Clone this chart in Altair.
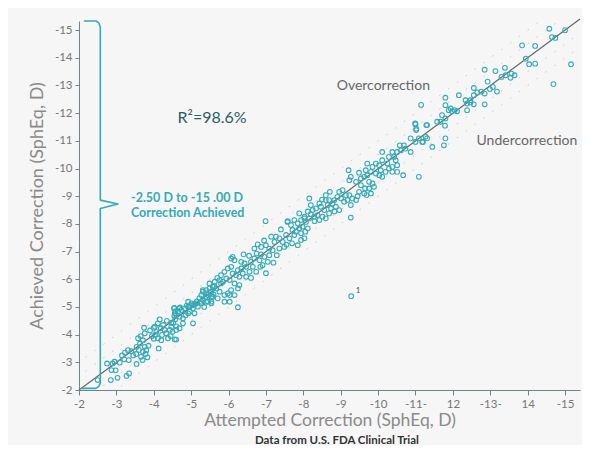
import altair as alt
import pandas as pd

# ---------------- data (attempted, achieved) in diopters ----------------
low_pts = [
    (-2.50, -2.36), (-2.75, -2.96), (-2.90, -2.96), (-2.87, -2.72), (-2.98, -2.71), (-2.85, -2.36),
    (-3.03, -2.44), (-3.09, -2.99), (-3.21, -3.11), (-3.23, -3.35), (-3.31, -3.44), (-3.33, -3.08),
    (-3.34, -2.60), (-3.27, -2.51), (-3.54, -2.94), (-3.54, -3.56), (-3.63, -3.68), (-3.71, -3.80),
    (-3.76, -3.56), (-3.80, -3.44), (-3.71, -3.38), (-3.70, -3.08), (-3.83, -3.18), (-3.74, -4.25),
    (-3.76, -4.05), (-3.58, -3.87), (-4.03, -4.29), (-4.07, -4.10), (-4.11, -4.41), (-4.16, -4.55),
    (-4.19, -4.23), (-4.22, -3.99), (-4.29, -4.17), (-4.11, -3.87), (-4.13, -3.50), (-4.38, -3.87),
    (-4.56, -3.83), (-4.43, -4.17), (-4.47, -4.29), (-4.60, -4.17), (-4.69, -4.23), (-4.47, -4.43),
    (-4.54, -4.95), (-4.56, -4.77), (-4.60, -4.71), (-4.65, -4.83), (-4.74, -4.89), (-4.69, -4.65),
    (-4.78, -4.41), (-4.78, -4.59), (-4.92, -5.01), (-4.96, -4.83), (-5.05, -4.95), (-5.01, -5.13),
    (-5.09, -5.10), (-5.18, -5.01), (-5.27, -5.13), (-5.31, -5.25), (-5.40, -5.37), (-5.45, -5.19),
    (-5.54, -5.13), (-5.40, -5.49), (-5.31, -5.61), (-5.49, -5.67), (-5.54, -5.37), (-5.05, -4.41),
    (-4.92, -4.77), (-5.09, -4.77), (-4.55, -4.97), (-4.58, -4.85), (-4.55, -4.68), (-4.57, -4.55),
    (-4.52, -4.42), (-4.60, -4.30), (-4.50, -4.10), (-4.45, -3.95), (-4.60, -3.82), (-4.00, -4.25),
    (-4.05, -4.00), (-4.00, -3.85), (-3.53, -3.30), (-3.60, -3.45), (-3.66, -3.20), (-3.86, -3.60),
    (-3.78, -3.30), (-3.65, -3.95), (-3.45, -3.25), (-3.40, -3.40), (-3.15, -3.25), (-2.95, -3.02),
    (-4.25, -4.35), (-4.33, -4.05), (-4.20, -3.80), (-4.85, -4.70), (-4.88, -5.05), (-5.15, -5.20),
    (-5.22, -5.32), (-5.35, -5.00), (-5.60, -5.45), (-5.62, -5.75), (-4.70, -4.98), (-4.35, -4.50),
    (-3.95, -3.95), (-3.90, -4.15),
]

mid_pts = [
    (-6.99, -8.10), (-7.58, -8.10), (-7.67, -7.96), (-7.76, -8.14), (-7.85, -8.02), (-7.94, -8.14),
    (-8.03, -8.20), (-8.07, -8.07), (-7.98, -7.90), (-7.89, -7.84), (-7.80, -7.72), (-7.71, -7.78),
    (-7.76, -7.60), (-7.94, -7.66), (-8.05, -7.72), (-8.12, -7.84), (-8.03, -7.48), (-7.85, -7.23),
    (-7.94, -7.42), (-7.63, -7.48), (-7.54, -7.60), (-7.14, -7.54), (-7.27, -7.54), (-7.23, -7.35),
    (-7.36, -7.48), (-7.45, -7.35), (-7.49, -7.17), (-7.36, -7.11), (-7.29, -6.87), (-7.18, -7.05),
    (-7.09, -7.11), (-7.00, -7.23), (-6.87, -7.17), (-6.78, -7.26), (-6.69, -7.11), (-6.75, -6.93),
    (-6.87, -6.90), (-6.96, -6.81), (-7.09, -6.87), (-7.05, -6.63), (-6.83, -6.69), (-6.69, -6.75),
    (-6.60, -6.63), (-6.65, -6.45), (-6.56, -6.27), (-6.74, -6.27), (-6.91, -6.51), (-7.00, -6.22),
    (-6.11, -6.81), (-6.16, -6.69), (-6.07, -6.75), (-6.34, -6.63), (-6.43, -6.57), (-6.47, -6.45),
    (-6.34, -6.39), (-6.25, -6.33), (-6.38, -6.21), (-6.47, -6.09), (-6.29, -6.09), (-6.20, -6.15),
    (-6.11, -6.21), (-6.07, -6.45), (-5.98, -6.39), (-5.89, -6.27), (-5.80, -6.15), (-5.76, -5.97),
    (-5.85, -5.91), (-5.94, -6.03), (-6.03, -5.97), (-6.16, -5.85), (-6.29, -5.79), (-6.25, -5.67),
    (-6.07, -5.61), (-5.98, -5.49), (-5.89, -5.43), (-5.76, -5.55), (-5.67, -5.67), (-5.58, -5.73),
    (-5.54, -5.55), (-5.40, -5.61), (-5.31, -5.55), (-5.27, -5.43), (-5.45, -5.43), (-5.58, -5.37),
    (-5.71, -5.31), (-5.89, -5.19), (-6.03, -5.43), (-6.16, -5.43), (-5.54, -5.19), (-5.40, -5.19),
    (-5.27, -5.19), (-5.14, -5.13), (-5.05, -5.07), (-4.96, -5.01), (-4.83, -4.95), (-4.69, -4.95),
    (-4.92, -5.19), (-5.80, -5.85), (-5.49, -5.85), (-5.63, -5.91), (-6.25, -4.99), (-6.03, -5.19),
    (-6.55, -6.85), (-6.95, -7.40), (-7.40, -7.80), (-7.20, -6.60), (-6.85, -6.45), (-6.40, -6.90),
    (-5.70, -6.05), (-6.60, -6.05), (-7.55, -7.25), (-7.70, -7.30), (-8.20, -8.35), (-8.30, -8.10),
]

upper_pts = [
    (-11.00, -11.60), (-11.29, -11.57), (-11.02, -11.39), (-10.87, -11.09), (-11.00, -10.96),
    (-11.09, -11.09), (-11.20, -10.96), (-11.27, -11.15), (-10.58, -10.84), (-10.69, -10.84),
    (-10.61, -10.66), (-10.73, -10.72), (-10.87, -10.60), (-10.51, -10.60), (-10.38, -10.60),
    (-10.43, -10.42), (-10.29, -10.42), (-10.11, -10.60), (-10.47, -10.30), (-10.51, -10.12),
    (-10.38, -10.06), (-10.25, -10.18), (-10.11, -10.30), (-10.03, -10.12), (-9.94, -10.18),
    (-9.85, -10.06), (-9.71, -10.18), (-9.67, -9.94), (-9.81, -9.88), (-9.94, -9.82),
    (-10.07, -9.94), (-10.20, -9.88), (-10.29, -10.00), (-10.38, -9.88), (-10.51, -9.88),
    (-10.67, -9.76), (-11.09, -9.70), (-10.11, -9.70), (-10.03, -9.76), (-9.21, -9.94),
    (-9.49, -9.85), (-9.27, -9.70), (-9.23, -9.58), (-9.41, -9.52), (-9.54, -9.64),
    (-9.63, -9.70), (-9.71, -9.76), (-9.76, -9.52), (-9.85, -9.46), (-9.89, -9.34),
    (-9.76, -9.28), (-9.65, -9.28), (-9.54, -9.40), (-9.49, -9.16), (-9.63, -9.10),
    (-9.69, -9.04), (-9.81, -9.10), (-9.45, -9.00), (-9.41, -8.86), (-9.31, -8.92),
    (-9.23, -9.04), (-9.14, -9.04), (-9.18, -8.86), (-9.27, -8.68), (-9.09, -8.80),
    (-9.01, -8.92), (-8.96, -9.16), (-9.05, -9.22), (-8.91, -8.98), (-8.83, -8.86),
    (-8.78, -8.74), (-8.69, -8.86), (-8.60, -8.86), (-8.50, -8.88), (-8.65, -8.68),
    (-8.74, -8.56), (-8.87, -8.62), (-8.96, -8.50), (-8.83, -8.45), (-8.69, -8.38),
    (-8.56, -8.50), (-8.47, -8.62), (-8.43, -8.74), (-8.34, -8.56), (-8.25, -8.50),
    (-8.16, -8.92), (-8.20, -8.68), (-8.12, -8.45), (-8.38, -8.32), (-8.51, -8.26),
    (-8.60, -8.20), (-8.43, -8.14), (-8.29, -8.26), (-8.16, -8.20), (-8.03, -8.26),
    (-7.89, -8.38), (-7.58, -8.07), (-9.27, -8.23), (-8.71, -9.16), (-8.60, -9.04),
    (-11.15, -12.30), (-11.31, -11.09), (-11.18, -10.96), (-11.45, -10.78), (-11.76, -10.84),
    (-11.80, -11.09),
]

top_pts = [
    (-14.58, -15.05), (-15.00, -15.00), (-14.65, -14.75), (-14.74, -14.72), (-15.16, -13.77),
    (-14.69, -13.05), (-13.85, -14.45), (-14.20, -14.43), (-13.95, -13.97), (-14.04, -13.77),
    (-14.20, -13.79), (-12.85, -13.57), (-13.14, -13.52), (-13.39, -13.64), (-13.30, -13.31),
    (-13.41, -13.37), (-13.57, -13.43), (-13.65, -13.37), (-13.54, -13.28), (-12.93, -13.14),
    (-12.56, -12.91), (-12.65, -12.75), (-12.76, -12.78), (-12.85, -12.71), (-12.99, -12.87),
    (-13.07, -12.95), (-13.18, -12.78), (-12.56, -12.65), (-12.47, -12.47), (-12.34, -12.47),
    (-12.38, -12.35), (-12.47, -12.39), (-12.56, -12.32), (-12.16, -12.65), (-12.85, -12.32),
    (-12.05, -12.11), (-12.11, -12.07), (-11.94, -12.17), (-11.98, -12.07), (-11.80, -12.56),
    (-11.80, -12.29), (-11.89, -12.11), (-11.71, -11.93), (-11.80, -11.81), (-11.67, -11.69),
    (-11.58, -11.69), (-11.79, -11.55), (-11.31, -11.57), (-10.99, -11.63), (-11.02, -11.44),
    (-12.38, -12.11),
]

outlier_pts = [(-9.28, -5.39)]

x_ticks = [-2, -3, -4, -5, -6, -7, -8, -9, -10, -11, -12, -13, -14, -15]
x_labels = ["-2", "-3", "-4", "-5", "-6", "-7", "-8", "-9", "-10", "-11-", "12", "-13-", "14", "-15"]
y_labels = ["-2", "-3", "-4", "-5", "-6", "-7", "-8", "-9", "-10", "-11", "-12", "-13", "-14", "-15"]

band_offsets = [-1.0, -0.5, 0.5, 1.0]

bracket_x = [-2.13, -2.45, -2.53, -2.57, -2.57, -3.04, -2.57, -2.57, -2.53, -2.45, -2.05]
bracket_y = [-15.33, -15.33, -15.26, -15.11, -8.86, -8.72, -8.56, -2.25, -2.13, -2.06, -2.06]

# ---------------- build tables ----------------
all_pts = low_pts + mid_pts + upper_pts + top_pts + outlier_pts
scatter_df = pd.DataFrame({"x": [p[0] for p in all_pts], "y": [p[1] for p in all_pts]})

diag_df = pd.DataFrame({"x": [-2.0, -15.4], "y": [-2.0, -15.4]})
band_rows = []
for off in band_offsets:
    for xv in (-1.0, -16.0):
        band_rows.append({"x": xv, "y": xv + off, "o": off})
band_df = pd.DataFrame(band_rows)
bracket_df = pd.DataFrame({"x": bracket_x, "y": bracket_y, "i": list(range(len(bracket_x)))})

X_DOMAIN = [-2, -15.4]
Y_DOMAIN = [-2, -15.33]
W, H = 501, 369

AXIS_COL = "#6f858a"
TEAL = "#34a9b7"
FONT = "Lato"

x_expr = "[" + ",".join("'%s'" % s for s in x_labels) + "][round(-datum.value) - 2]"
y_expr = "[" + ",".join("'%s'" % s for s in y_labels) + "][round(-datum.value) - 2]"


def X():
    return alt.X(
        "x:Q",
        scale=alt.Scale(domain=X_DOMAIN, nice=False, zero=False),
        axis=alt.Axis(
            values=x_ticks, labelExpr=x_expr, title="Attempted Correction (SphEq, D)",
            grid=False, domainColor=AXIS_COL, tickColor=AXIS_COL, tickSize=5,
            labelColor="#777777", labelFontSize=11.5, labelFont=FONT, labelPadding=3,
            titleFont=FONT, titleFontSize=17.5, titleColor="#8a8a8a", titleFontWeight="normal",
            titlePadding=2, labelFlush=False, labelOverlap=False,
        ),
    )


def Y():
    return alt.Y(
        "y:Q",
        scale=alt.Scale(domain=Y_DOMAIN, nice=False, zero=False),
        axis=alt.Axis(
            values=x_ticks, labelExpr=y_expr, title="Achieved Correction (SphEq, D)",
            grid=False, domainColor=AXIS_COL, tickColor=AXIS_COL, tickSize=4,
            labelColor="#777777", labelFontSize=11.5, labelFont=FONT, labelPadding=3,
            titleFont=FONT, titleFontSize=18, titleColor="#8a8a8a", titleFontWeight="normal",
            titlePadding=8, labelFlush=False, labelOverlap=False,
        ),
    )


bands = alt.Chart(band_df).mark_line(
    clip=True, color="#cccccc", strokeWidth=1.0, strokeDash=[1, 10], strokeCap="round"
).encode(x=X(), y=Y(), detail="o:N")

diag = alt.Chart(diag_df).mark_line(color="#666666", strokeWidth=1.2, clip=False).encode(x=X(), y=Y())

bracket = alt.Chart(bracket_df).mark_line(
    color=TEAL, strokeWidth=1.6, clip=False, strokeJoin="round"
).encode(x=X(), y=Y(), order="i:Q")

points = alt.Chart(scatter_df).mark_point(
    shape="circle", filled=False, size=22, color=TEAL, strokeWidth=1.1, opacity=1
).encode(x=X(), y=Y())


def label(x, y, text, **kw):
    df = pd.DataFrame({"x": [x], "y": [y], "t": [text]})
    return alt.Chart(df).mark_text(font=FONT, **kw).encode(x=X(), y=Y(), text="t:N")


r2 = label(-5.56, -11.83, "R²=98.6%", fontSize=16, color="#2b5d66", align="center", baseline="middle")
rng1 = label(-3.39, -8.93, "-2.50 D to -15 .00 D", fontSize=12.5, fontWeight="bold", color=TEAL,
             align="left", baseline="middle")
rng2 = label(-3.39, -8.38, "Correction Achieved", fontSize=12.5, fontWeight="bold", color=TEAL,
             align="left", baseline="middle")
over = label(-10.14, -12.99, "Overcorrection", fontSize=14, color="#666666", align="center", baseline="middle")
under = label(-13.98, -11.01, "Undercorrection", fontSize=14, color="#666666", align="center", baseline="middle")
sup1 = label(-9.40, -5.58, "1", fontSize=8, color="#555555", align="left", baseline="middle")

caption = alt.Chart(pd.DataFrame({"t": ["Data from U.S. FDA Clinical Trial"]})).mark_text(
    font=FONT, fontSize=11.5, fontWeight="bold", color="#333333", align="center", baseline="alphabetic"
).encode(x=alt.value(258), y=alt.value(423), text="t:N")

chart = alt.layer(bands, diag, bracket, points, r2, rng1, rng2, over, under, sup1, caption).properties(
    width=W, height=H,
    autosize=alt.AutoSizeParams(type="none"),
    padding={"left": 71, "top": 13, "right": 2, "bottom": 55},
    background="#f6f6f6",
).configure_view(stroke=None)

chart.save("out.html", embed_options={"renderer": "svg", "actions": False})
